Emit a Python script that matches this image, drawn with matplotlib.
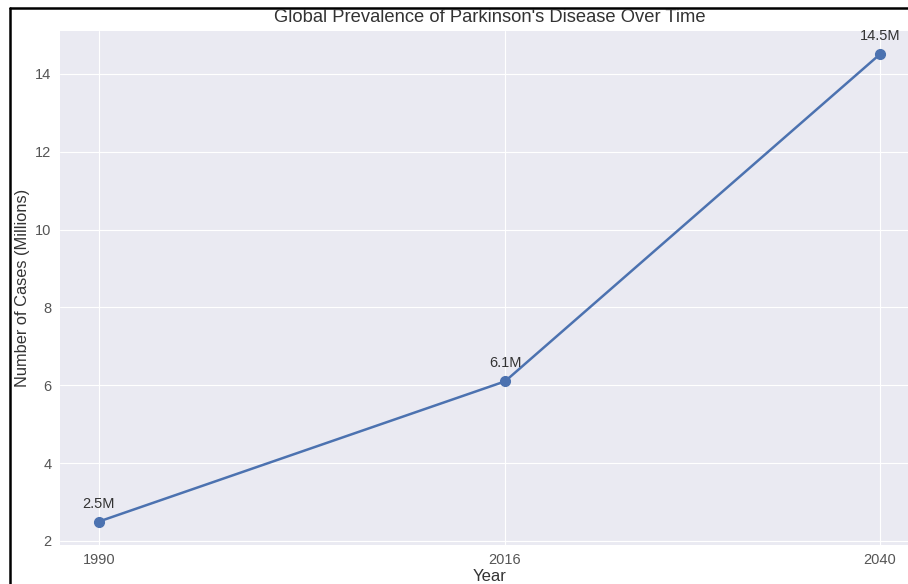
import matplotlib
matplotlib.use("Agg")
import matplotlib.pyplot as plt
from matplotlib.lines import Line2D

# Data
years = [1990, 2016, 2040]
cases = [2.5, 6.1, 14.5]
labels = ["2.5M", "6.1M", "14.5M"]

plt.style.use("seaborn-v0_8-darkgrid")
plt.rcParams["font.family"] = ["Liberation Sans", "DejaVu Sans"]

fig = plt.figure(figsize=(9.08, 5.84), dpi=100)
ax = fig.add_axes([0.066, 0.067, 0.946, 0.880])

ax.plot(years, cases, marker="o", color="#4C72B0", linewidth=1.8, markersize=7)
for x, y, s in zip(years, cases, labels):
    ax.annotate(s, (x, y), textcoords="offset points", xytext=(0, 10),
                ha="center", fontsize=10.5, color="#333333")

ax.set_xticks(years)
ax.tick_params(labelsize=10.5, colors="#555555", pad=6)
fig.text(490 / 908, 1 - 17 / 584, "Global Prevalence of Parkinson's Disease Over Time",
         ha="center", va="center", fontsize=13.2, color="#333333")
ax.set_xlabel("Year", fontsize=12, color="#333333", labelpad=1)
ax.set_ylabel("Number of Cases (Millions)", fontsize=11.8, color="#333333", labelpad=4)

# screenshot frame
fig.add_artist(Line2D([10 / 908, 10 / 908], [0, 1 - 8 / 584], transform=fig.transFigure, color="black", linewidth=1.8))
fig.add_artist(Line2D([10 / 908, 1], [1 - 8 / 584, 1 - 8 / 584], transform=fig.transFigure, color="black", linewidth=1.8))

fig.savefig("out.png", dpi=100)
